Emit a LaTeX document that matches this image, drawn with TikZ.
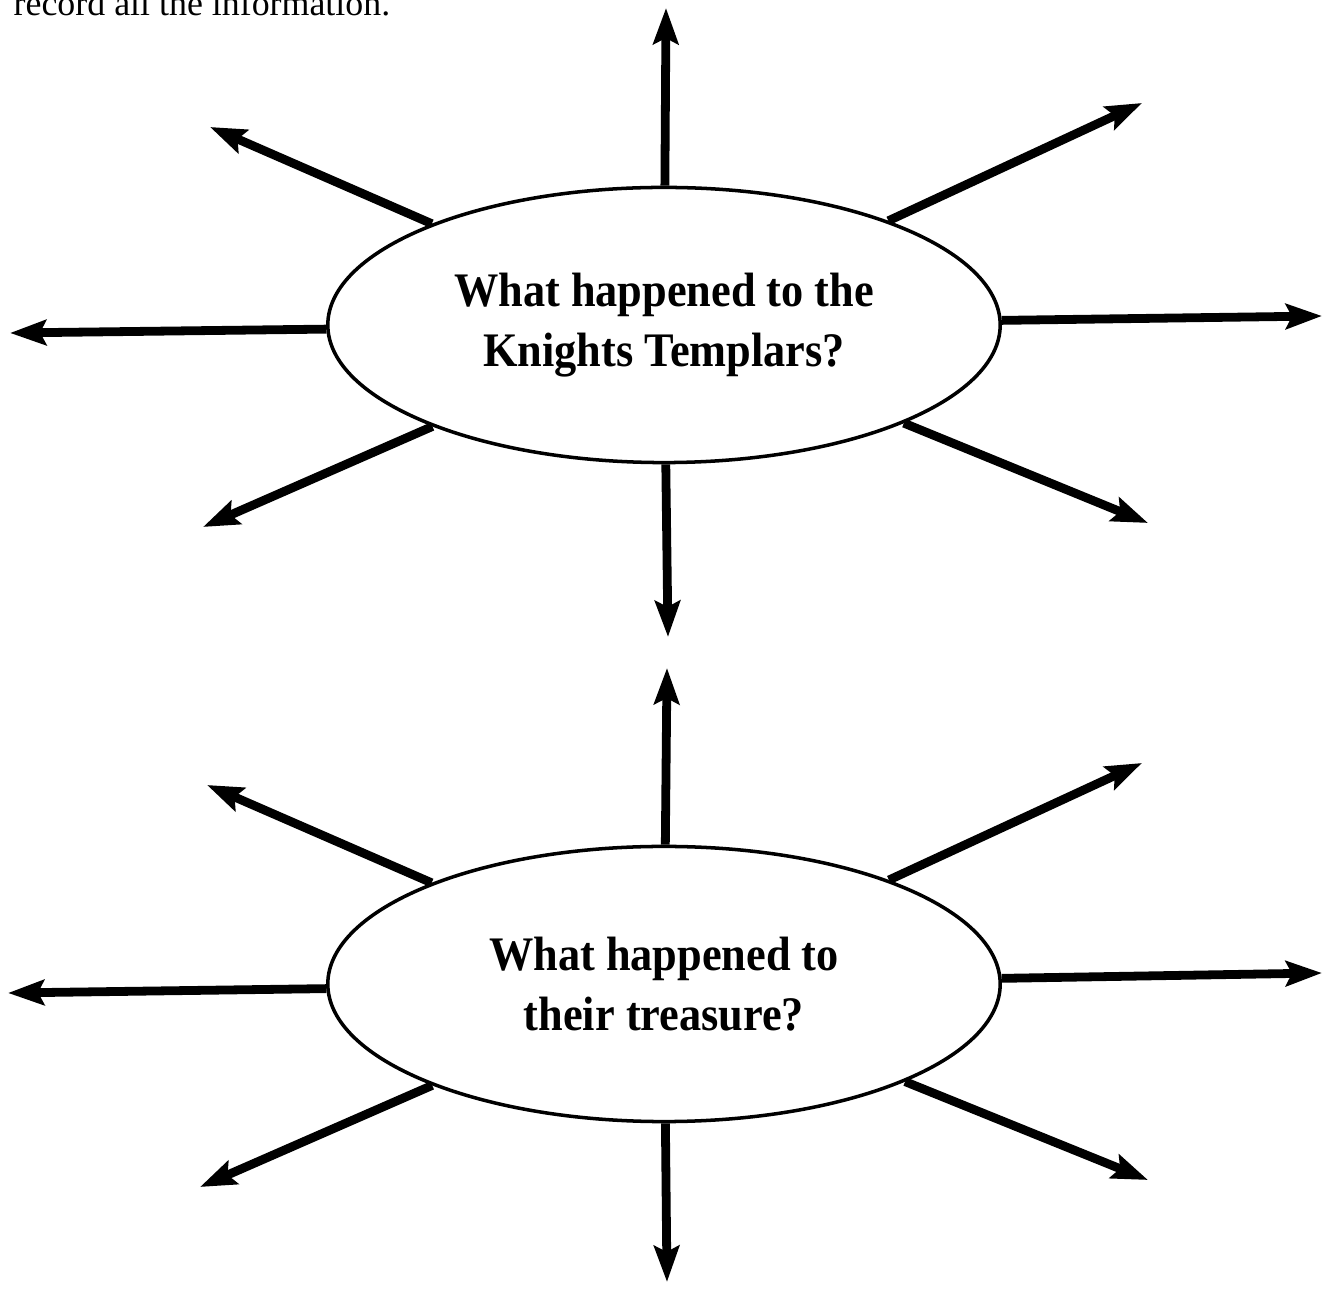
\documentclass[tikz,border=0pt]{standalone}
\usepackage{fontspec}
\setmainfont{Liberation Serif}
\newfontfamily\titlefont[FakeStretch=0.92]{Liberation Serif}
\usetikzlibrary{arrows.meta,shapes.geometric}
\tikzset{
  ell/.style={ellipse, draw, line width=1pt, minimum width=6.72cm, minimum height=2.75cm, inner sep=0pt,
    align=center, font=\titlefont\bfseries\fontsize{13.7}{17}\selectfont},
  arr/.style={line width=2.5pt, -{Stealth[length=3.6mm,width=2.5mm,inset=0.6mm]}},
}
\begin{document}
\begin{tikzpicture}[x=0.01cm,y=-0.01cm]
\useasboundingbox (0,0) rectangle (1330,1289);
\node[anchor=base west, inner sep=0pt, font=\fontsize{10.2}{12}\selectfont] (top) at (13,16) {record all the information.};
% first ellipse
\node[ell] (e1) at (664,325) {What happened to the\\Knights Templars?};
\coordinate (a1n) at (666,8);
\coordinate (a1s) at (668,637);
\coordinate (a1w) at (10,333);
\coordinate (a1e) at (1322,316);
\coordinate (a1nw) at (210,127);
\coordinate (a1ne) at (1142,103);
\coordinate (a1sw) at (203,527);
\coordinate (a1se) at (1148,523);
\foreach \t in {a1n,a1s,a1w,a1e,a1nw,a1ne,a1sw,a1se} \draw[arr] (e1) -- (\t);
% second ellipse
\node[ell] (e2) at (664,984) {What happened to\\their treasure?};
\coordinate (a2n) at (667,668);
\coordinate (a2s) at (667,1282);
\coordinate (a2w) at (8,993);
\coordinate (a2e) at (1322,973);
\coordinate (a2nw) at (207,785);
\coordinate (a2ne) at (1142,763);
\coordinate (a2sw) at (200,1187);
\coordinate (a2se) at (1148,1180);
\foreach \t in {a2n,a2s,a2w,a2e,a2nw,a2ne,a2sw,a2se} \draw[arr] (e2) -- (\t);
\end{tikzpicture}
\end{document}
